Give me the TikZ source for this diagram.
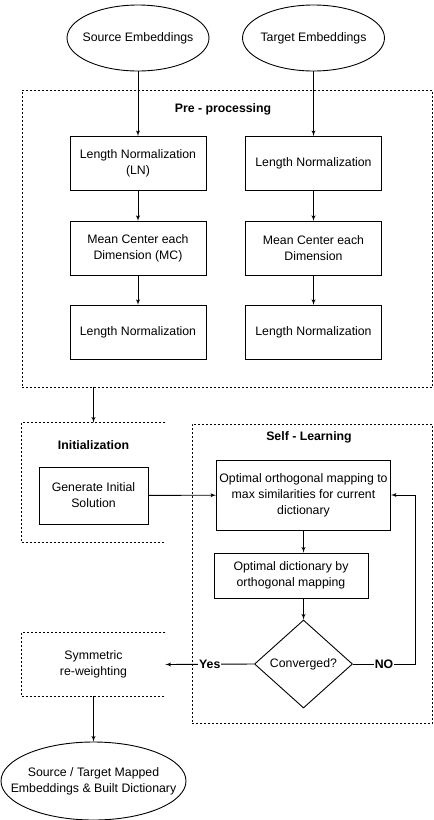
\documentclass[tikz,border=0pt]{standalone}
\usepackage{fontspec}
\setmainfont{Liberation Sans}
\usepackage{tikz}
\usetikzlibrary{shapes}
\usetikzlibrary{arrows}
\usetikzlibrary{shapes.geometric}
\usetikzlibrary{positioning}
\newcommand{\diagfont}{\fontsize{12.3}{16}\selectfont}
\tikzstyle{stage} = [draw, align=center, inner sep=0pt,
  minimum width=136pt, minimum height=54pt]
\tikzstyle{embed} = [draw, ellipse, inner sep=0pt,
  minimum width=142pt, minimum height=66pt]
\tikzstyle{phase} = [draw, dash pattern=on 2pt off 2pt]
\tikzstyle{title} = [font=\diagfont\bfseries]
\tikzstyle{decision} = [draw, diamond, inner sep=0pt,
  minimum width=98pt, minimum height=88pt]
\tikzstyle{line} = [draw, -latex']
\begin{document}
\begin{tikzpicture}[x=1pt,y=-1pt,line width=0.9pt,font=\diagfont]
    \useasboundingbox (0,0) rectangle (434,820);

    % Input embeddings
    \node (src) [embed, label=center:Source Embeddings] at (138,38) {};
    \node (tgt) [embed, label=center:Target Embeddings] at (313.5,38) {};

    % Pre-processing
    \node (pre) [phase, minimum width=410.5pt, minimum height=297pt]
      at (227.25,238.5) {};
    \node (pretitle) [title] at (223,109) {Pre - processing};
    \node (ln1) [stage] at (138,163.5) {Length Normalization\\(LN)};
    \node (mc1) [stage, below=30pt of ln1] {Mean Center each\\Dimension (MC)};
    \node (ln3) [stage, below=29pt of mc1] {Length Normalization};
    \node (ln2) [stage] at (313.5,163.5) {Length Normalization};
    \node (mc2) [stage, below=30pt of ln2] {Mean Center each\\Dimension};
    \node (ln4) [stage, below=29pt of mc2] {Length Normalization};

    % Initialization
    \node (init) [inner sep=0pt, minimum width=143pt, minimum height=119pt]
      at (93.5,482.5) {};
    \draw [phase] (init.north east) -- (init.north west)
      -- (init.south west) -- (init.south east);
    \node (inittitle) [title] at (93.5,445) {Initialization};
    \node (gen) [stage, minimum width=109pt, minimum height=57pt]
      at (93.5,495.5) {Generate Initial\\Solution};

    % Self-learning loop
    \node (self) [phase, minimum width=240.5pt, minimum height=299pt]
      at (312.25,573.5) {};
    \node (selftitle) [title] at (309,437) {Self - Learning};
    \node (map) [stage, minimum width=174pt, minimum height=70pt]
      at (303.5,495) {Optimal orthogonal mapping to\\max similarities for current\\dictionary};
    \node (dict) [stage, minimum width=154pt, minimum height=45pt]
      at (291,575.5) {Optimal dictionary by\\orthogonal mapping};
    \node (conv) [decision] at (303.5,664) {Converged?};
    \coordinate (loop) at (415,664);

    % Re-weighting and output
    \node (sym) [align=center, inner sep=0pt, minimum width=143pt,
      minimum height=63pt] at (93.5,664.5) {Symmetric\\re-weighting};
    \draw [phase] (sym.north east) -- (sym.north west)
      -- (sym.south west) -- (sym.south east);
    \node (out) [embed, minimum width=185pt, minimum height=78pt,
      label={[align=center]center:Source / Target Mapped\\Embeddings \& Built Dictionary}]
      at (93.5,781) {};

    % Draw arrows between elements
    \path [line] (src) -- (ln1);
    \path [line] (tgt) -- (ln2);
    \path [line] (ln1) -- (mc1);
    \path [line] (mc1) -- (ln3);
    \path [line] (ln2) -- (mc2);
    \path [line] (mc2) -- (ln4);
    \path [line] (pre.south -| init) -- (init.north);
    \path [line] (gen) -- (map);
    \path [line] (map.south) -- (map.south |- dict.north);
    \path [line] (dict.south -| conv) -- (conv.north);
    \path [line] (conv.west) -- node [title, fill=white, inner sep=1pt] {Yes} (sym.east);
    \path [line] (conv.east) -- node [title, fill=white, inner sep=1pt] {NO} (loop)
      |- (map.east);
    \path [line] (sym.south) -- (out.north);

  \end{tikzpicture}
\end{document}
